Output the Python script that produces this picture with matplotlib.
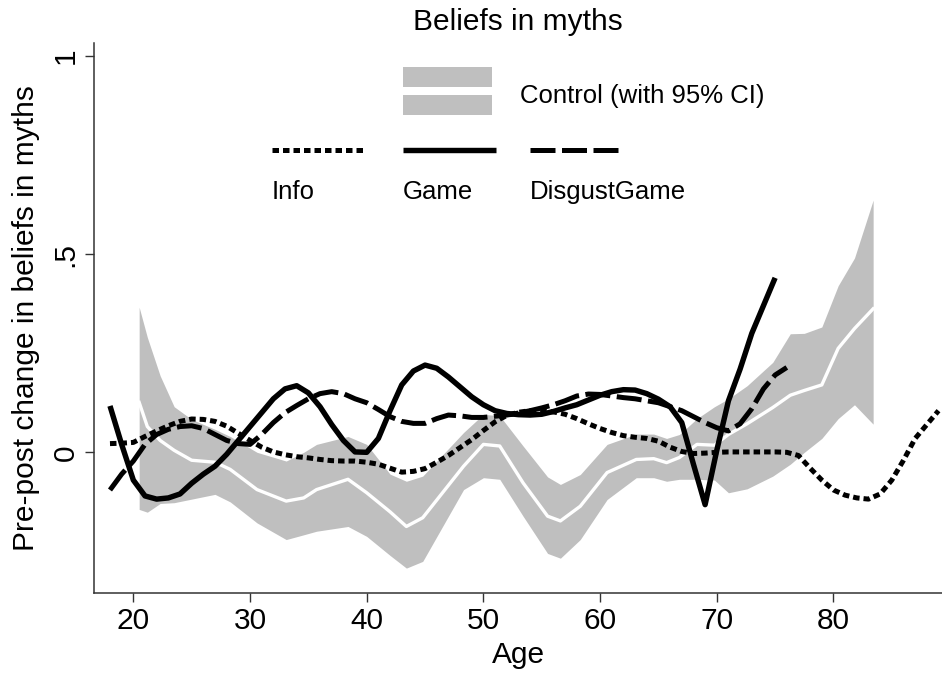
import numpy as np
import matplotlib
matplotlib.use('Agg')
import matplotlib.pyplot as plt
from matplotlib.patches import Rectangle
from matplotlib.lines import Line2D

plt.rcParams['font.family'] = ['Liberation Sans', 'DejaVu Sans']

# Control group: smoothed mean with 95% CI
ctrl_age = [20.5, 21.2, 22.3, 23.5, 25, 27, 28.3, 30.6, 33.1, 34.6, 35.7, 38.4, 40, 42,
            43.4, 44.8, 48.3, 50, 51.4, 53.4, 55.5, 56.6, 58.3, 60.6, 63.1, 64.6, 65.7,
            66.8, 68.3, 69.8, 71, 72.6, 74.8, 76.3, 77.5, 79, 80.4, 81.8, 83.4]
ctrl_hi = [.366, .29, .193, .115, .083, .058, .04, .0, -.022, .0, .02, .04, .02, -.055,
           -.073, -.06, .05, .096, .092, .016, -.062, -.081, -.056, .02, .046, .046, .035,
           .045, .085, .115, .135, .168, .227, .299, .30, .316, .42, .49, .636]
ctrl_mid = [.126, .065, .03, .005, -.02, -.025, -.043, -.094, -.123, -.115, -.094, -.068, -.102, -.15,
            -.187, -.165, -.035, .02, .016, -.077, -.161, -.173, -.136, -.051, -.018, -.016, -.026,
            -.013, .02, .018, .045, .072, .113, .144, .156, .17, .262, .312, .362]
ctrl_lo = [-.144, -.151, -.129, -.127, -.118, -.106, -.125, -.178, -.22, -.208, -.199, -.187, -.212, -.26,
           -.292, -.275, -.094, -.064, -.068, -.161, -.255, -.267, -.22, -.119, -.064, -.064, -.073,
           -.068, -.068, -.07, -.102, -.092, -.06, -.03, .0, .035, .085, .12, .071]

# Info: ages 18..89
info_age = list(range(18, 90))
info = [.022, .023, .025, .04, .054, .067, .078, .084, .083, .078, .066, .048, .03, .013,
        .001, -.006, -.011, -.014, -.018, -.021, -.022, -.022, -.025, -.03, -.04, -.05, -.048,
        -.041, -.025, -.008, .012, .032, .055, .077, .093, .101, .105, .104, .102, .096, .085,
        .072, .06, .05, .042, .038, .035, .028, .013, .002, -.003, -.002, .0, .001, .001, .001,
        .001, .001, .0, -.008, -.04, -.07, -.095, -.108, -.115, -.118, -.105, -.07, -.02, .035,
        .07, .105]

# Game: ages 18..75
game_age = list(range(18, 76))
game = [.117, .02, -.07, -.11, -.118, -.115, -.105, -.078, -.055, -.035, -.005, .03, .065, .10,
        .135, .16, .168, .15, .115, .07, .03, .001, .0, .035, .105, .17, .205, .22, .212, .19,
        .165, .14, .12, .105, .098, .095, .094, .096, .103, .112, .12, .132, .144, .153, .158,
        .157, .148, .134, .115, .075, -.03, -.132, .005, .13, .21, .30, .37, .44]

# DisgustGame: ages 18..76
disg_age = list(range(18, 77))
disg = [-.095, -.055, -.022, .02, .045, .058, .065, .067, .06, .045, .03, .022, .02, .045,
        .075, .10, .118, .135, .148, .153, .148, .135, .125, .108, .09, .078, .073, .073, .085,
        .094, .092, .088, .088, .091, .094, .099, .105, .112, .12, .13, .142, .147, .146, .142,
        .138, .135, .13, .125, .115, .105, .09, .075, .062, .054, .072, .11, .16, .195, .214]

band_col = '#bfbfbf'
lw = 3.6
dot_style = dict(color='black', lw=lw, dashes=(1.3, 0.8), dash_capstyle='butt')
solid_style = dict(color='black', lw=3.9, solid_capstyle='butt')
dash_style = dict(color='black', lw=lw, dashes=(5.0, 1.3), dash_capstyle='butt')

fig = plt.figure(figsize=(9.42, 6.75), dpi=100)
ax = fig.add_axes([94/942, 1 - 592.7/675, 848/942, 550/675])

ax.fill_between(ctrl_age, ctrl_lo, ctrl_hi, color=band_col, lw=0)
ax.plot(ctrl_age, ctrl_mid, color='white', lw=2.4)
ax.plot(info_age, info, **dot_style)
ax.plot(game_age, game, **solid_style)
ax.plot(disg_age, disg, **dash_style)

ax.set_xlim(16.63, 89.3)
ax.set_ylim(-0.354, 1.033)
ax.set_xticks([20, 30, 40, 50, 60, 70, 80])
ax.set_yticks([0, 0.5, 1])
ax.set_yticklabels(['0', '.5', '1'], rotation=90, va='center')
for s in ['top', 'right']:
    ax.spines[s].set_visible(False)
for s in ['left', 'bottom']:
    ax.spines[s].set_color('#333333')
    ax.spines[s].set_linewidth(1.1)
ax.tick_params(length=6.5, width=1, color='#333333', labelsize=21.5, pad=4)
ax.set_xlabel('Age', fontsize=21.5, labelpad=4)
ax.set_ylabel('Pre-post change in beliefs in myths', fontsize=21.5, labelpad=8)
ax.set_title('Beliefs in myths', fontsize=21.5, pad=9)

# legend drawn by hand, Stata style
T = ax.transAxes
ax.add_patch(Rectangle((0.3644, 0.9195), 0.105, 0.0363, transform=T, color=band_col, lw=0, clip_on=False))
ax.add_patch(Rectangle((0.3644, 0.8685), 0.105, 0.0364, transform=T, color=band_col, lw=0, clip_on=False))
ax.text(0.5024, 0.903, 'Control (with 95% CI)', transform=T, fontsize=18.5, va='center', ha='left')

keys = [('Info', 0.2099, dot_style), ('Game', 0.3644, solid_style), ('DisgustGame', 0.5142, dash_style)]
for name, x0, st in keys:
    ax.add_line(Line2D([x0, x0 + 0.11], [0.8049, 0.8049], transform=T, clip_on=False, **st))
    ax.text(x0, 0.7285, name, transform=T, fontsize=18.5, va='center', ha='left')

fig.savefig('out.png', dpi=100)
